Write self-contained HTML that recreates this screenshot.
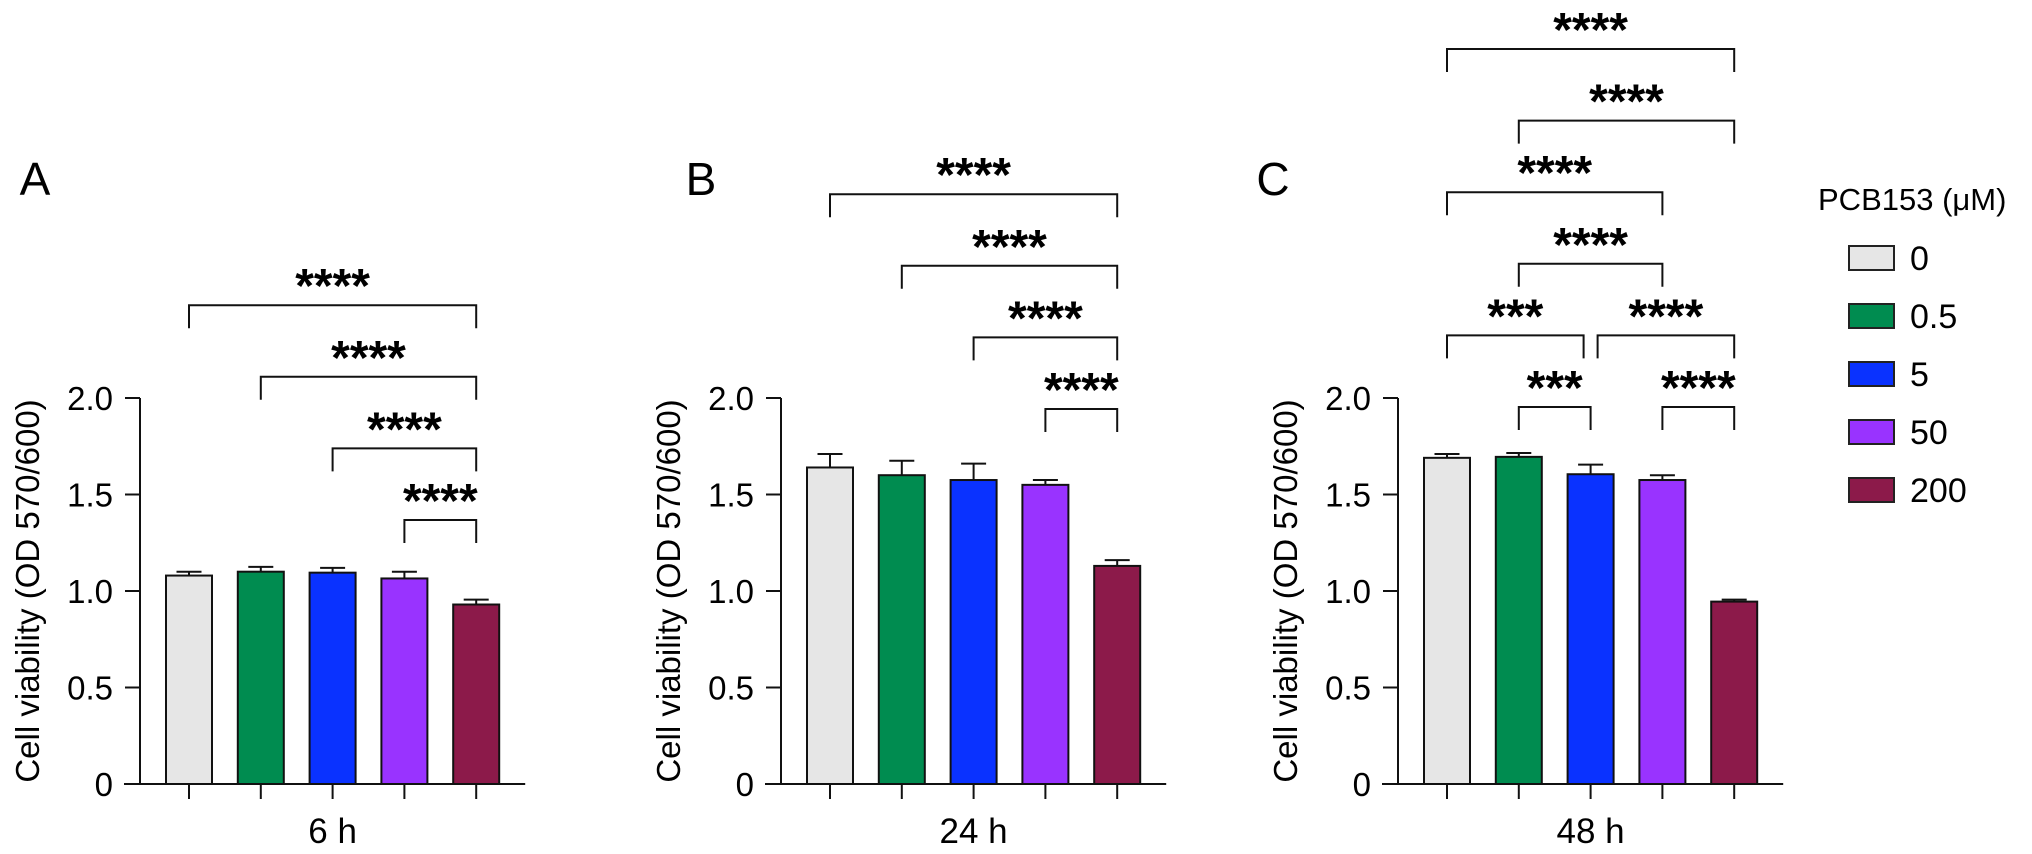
<!DOCTYPE html>
<html><head><meta charset="utf-8"><style>
html,body{margin:0;padding:0;background:#fff;}
svg{display:block;font-family:"Liberation Sans",Arial,sans-serif;}
</style></head><body>
<svg id="fig" width="2032" height="854" viewBox="0 0 2032 854" xmlns="http://www.w3.org/2000/svg"></svg>
<script>
const groups = ["0", "0.5", "5", "50", "200"];
const colors = ["#e6e6e6", "#008c50", "#0a32ff", "#9933ff", "#8c1a4a"];
const panelLetters = ["A", "B", "C"];
const timeLabels = ["6 h", "24 h", "48 h"];
const meansA = [1.08, 1.10, 1.095, 1.065, 0.93];
const errA = [0.02, 0.025, 0.025, 0.035, 0.025];
const meansB = [1.64, 1.60, 1.575, 1.55, 1.13];
const errB = [0.07, 0.075, 0.085, 0.025, 0.03];
const meansC = [1.69, 1.695, 1.605, 1.575, 0.945];
const errC = [0.02, 0.02, 0.05, 0.025, 0.01];
const yTicks = [0, 0.5, 1.0, 1.5, 2.0];
const yTickLabels = ["0", "0.5", "1.0", "1.5", "2.0"];
// brackets: [from, to, level, label]
const sigA = [[3,4,0,"****"],[2,4,1,"****"],[1,4,2,"****"],[0,4,3,"****"]];
const sigB = [[3,4,0,"****"],[2,4,1,"****"],[1,4,2,"****"],[0,4,3,"****"]];
const sigC = [[1,2,0,"***"],[3,4,0,"****"],[0,2,1,"***"],[2,4,1,"****"],[1,3,2,"****"],[0,3,3,"****"],[1,4,4,"****"],[0,4,5,"****"]];

const svg = document.getElementById('fig');
const NS = "http://www.w3.org/2000/svg";
function mk(tag, attrs, parent){
  const e = document.createElementNS(NS, tag);
  for (const k in attrs) e.setAttribute(k, attrs[k]);
  (parent||svg).appendChild(e);
  return e;
}
const y0 = 784, unit = 193;
function yScale(v){ return y0 - v*unit; }
const bar0 = [189, 830, 1447];
const step = 71.8;
const bracketBase = [520, 409, 407];
const allMeans = [meansA, meansB, meansC];
const allErr = [errA, errB, errC];
const allSig = [sigA, sigB, sigC];
const letterX = [35, 701, 1273];

for (let p = 0; p < 3; p++) {
  const g = mk('g', {});
  
  
  const xs = i => bar0[p] + i*step;
  const ax = bar0[p] - 49;
  const lt = mk('text', {x: letterX[p], y: 195, 'font-size': 46, 'text-anchor':'middle'}, g);
  lt.textContent = panelLetters[p];
  
  
  // y title
  const yt = mk('text', {x: 0, y: 0, 'font-size': 33, 'text-anchor':'middle', transform:`translate(${ax-101},${yScale(1)}) rotate(-90)`}, g);
  yt.textContent = "Cell viability (OD 570/600)";
  
  
  // y axis
  const yl = mk('line', {x1: ax, y1: yScale(2), x2: ax, y2: y0, stroke:'#111', 'stroke-width': 2}, g);
  
  
  yTicks.forEach((t, k) => {
    mk('line', {x1: ax-15, x2: ax, y1: yScale(t), y2: yScale(t), stroke:'#111','stroke-width':2}, g);
    const tl = mk('text', {x: ax-27, y: yScale(t)+12, 'font-size': 33, 'text-anchor':'end'}, g);
    tl.textContent = yTickLabels[k];
    
    
  });
  // bars
  allMeans[p].forEach((m, i) => {
    const x = xs(i), top = yScale(m), e = allErr[p][i];
    const ey = yScale(m + e);
    mk('line', {x1:x, x2:x, y1:ey, y2:top, stroke:'#111','stroke-width':2}, g);
    mk('line', {x1:x-12.5, x2:x+12.5, y1:ey, y2:ey, stroke:'#111','stroke-width':2}, g);
    const r = mk('rect', {x: x-23, y: top, width: 46, height: y0-top, fill: colors[i], stroke:'#111','stroke-width':2}, g);
    
    
    mk('line', {x1:x, x2:x, y1:y0, y2:y0+15, stroke:'#111','stroke-width':2}, g);
  });
  const xl = mk('line', {x1: ax-16, x2: xs(4)+49, y1: y0, y2: y0, stroke:'#111','stroke-width':2}, g);
  
  
  const xt = mk('text', {x: xs(2), y: 843, 'font-size': 35, 'text-anchor':'middle'}, g);
  xt.textContent = timeLabels[p];
  
  
  // significance brackets
  const sig = allSig[p];
  sig.forEach(s => {
    const [a, b, lvl, lab] = s;
    let xa = xs(a), xb = xs(b);
    if (sig.some(o => o !== s && o[2] === lvl && o[0] === b)) xb -= 7;
    if (sig.some(o => o !== s && o[2] === lvl && o[1] === a)) xa += 7;
    const ly = bracketBase[p] - lvl*71.6;
    const br = mk('path', {d:`M${xa},${ly+23} V${ly} H${xb} V${ly+23}`, fill:'none', stroke:'#111','stroke-width':2}, g);
    
    
    const st = mk('text', {x:(xa+xb)/2, y: ly-3, 'font-size': 48, 'font-weight':'bold', 'text-anchor':'middle'}, g);
    st.textContent = lab;
    
    
  });
}
// legend
const lg = mk('g', {});


const ltt = mk('text', {x: 1818, y: 210, 'font-size': 31}, lg);
ltt.textContent = "PCB153 (\u03BCM)";


const rowsY = [258, 316, 374, 432, 490];
groups.forEach((gname, i) => {
  const sw = mk('rect', {x: 1849, y: rowsY[i]-12, width: 45, height: 24, fill: colors[i], stroke:'#222', 'stroke-width':2}, lg);
  
  
  const t = mk('text', {x: 1910, y: rowsY[i]+12, 'font-size': 34}, lg);
  t.textContent = gname;
  
  
});
</script>
</body></html>
